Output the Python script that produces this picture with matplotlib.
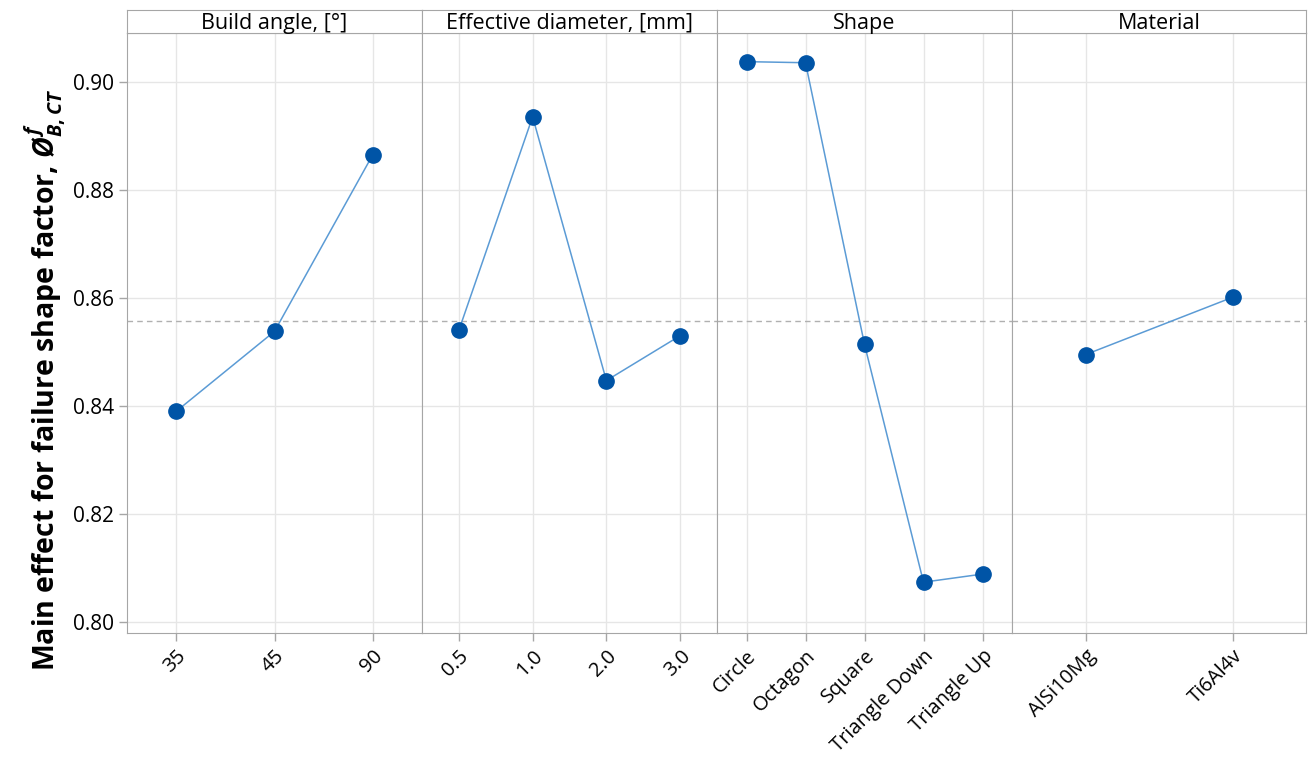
import matplotlib; matplotlib.use("Agg")
import matplotlib.pyplot as plt

plt.rcParams['font.family'] = ['Open Sans', 'DejaVu Sans']
plt.rcParams['mathtext.fontset'] = 'custom'
plt.rcParams['mathtext.it'] = 'Open Sans:italic:bold'
plt.rcParams['mathtext.rm'] = 'Open Sans:bold'

# data
panel_titles = ["Build angle, [°]", "Effective diameter, [mm]", "Shape", "Material"]
build_angle = ["35", "45", "90"]
build_angle_y = [0.8390, 0.8538, 0.8865]
eff_diam = ["0.5", "1.0", "2.0", "3.0"]
eff_diam_y = [0.8540, 0.8935, 0.8447, 0.8530]
shapes = ["Circle", "Octagon", "Square", "Triangle Down", "Triangle Up"]
shapes_y = [0.9037, 0.9035, 0.8514, 0.8074, 0.8089]
materials = ["AlSi10Mg", "Ti6Al4v"]
materials_y = [0.8495, 0.8601]
grand_mean = 0.8558
yticks = [0.80, 0.82, 0.84, 0.86, 0.88, 0.90]

cats = [build_angle, eff_diam, shapes, materials]
vals = [build_angle_y, eff_diam_y, shapes_y, materials_y]

W, H = 1309, 760
fig = plt.figure(figsize=(W / 100, H / 100), dpi=100)
edges = [127, 422, 717, 1012, 1306]
y_bot, y_top, h_top = 633, 33, 10
edge_c = "#a6a6a6"
grid_c = "#e6e6e6"

for i in range(4):
    x0 = edges[i] / W
    w = (edges[i + 1] - edges[i]) / W
    ax = fig.add_axes([x0, 1 - y_bot / H, w, (y_bot - y_top) / H])
    n = len(cats[i])
    xs = list(range(n))
    ax.axhline(grand_mean, color="#b0b0b0", lw=1, ls=(0, (4, 3)), zorder=1)
    ax.plot(xs, vals[i], color="#5b9bd5", lw=1.1, zorder=2)
    ax.plot(xs, vals[i], "o", color="#0054a6", ms=11, zorder=3)
    ax.set_xlim(-0.5, n - 0.5)
    ax.set_ylim(0.798, 0.909)
    ax.set_xticks(xs)
    ax.set_xticklabels(cats[i], rotation=45, ha="right", rotation_mode="anchor", fontsize=14.5)
    ax.set_yticks(yticks)
    if i == 0:
        ax.set_yticklabels([f"{t:.2f}" for t in yticks], fontsize=15)
    else:
        ax.tick_params(axis="y", left=False, labelleft=False)
    ax.grid(True, color=grid_c, lw=1)
    ax.set_axisbelow(True)
    for s in ax.spines.values():
        s.set_color(edge_c)
    ax.tick_params(colors=edge_c, labelcolor="black", length=6, width=1)

    hax = fig.add_axes([x0, 1 - y_top / H, w, (y_top - h_top) / H])
    hax.set_xticks([]); hax.set_yticks([])
    for s in hax.spines.values():
        s.set_color(edge_c)
    hax.text(0.5, 0.42, panel_titles[i], ha="center", va="center", fontsize=15.5, transform=hax.transAxes)

fig.text(45 / W, 1 - 380 / H, r"Main effect for failure shape factor, $Ø^{f}_{B,CT}$",
         rotation=90, ha="center", va="center", fontsize=20.5, fontweight="bold")

plt.savefig("out.png", dpi=100)
